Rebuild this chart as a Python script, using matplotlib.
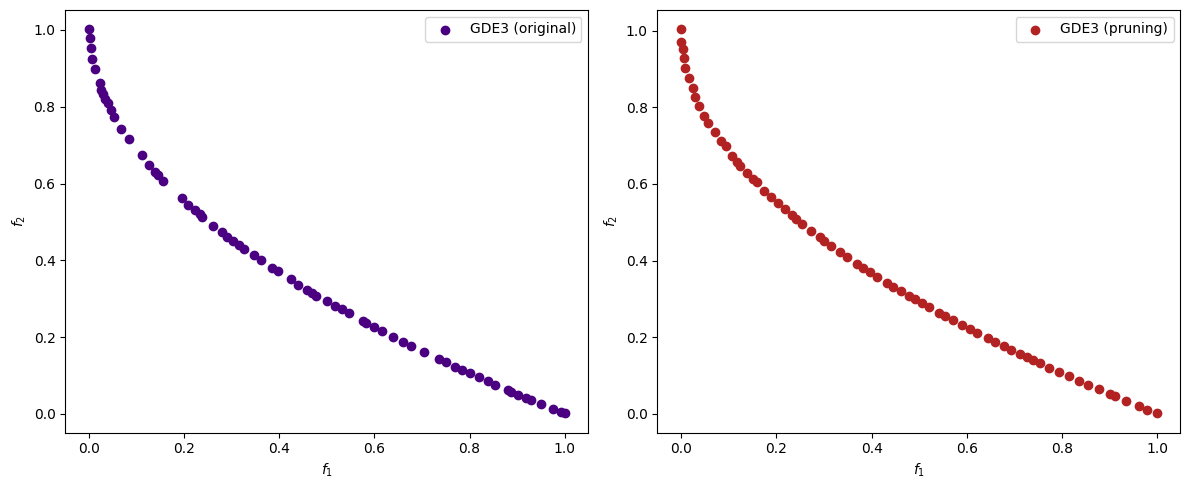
import matplotlib
matplotlib.use("Agg")
import matplotlib.pyplot as plt

# GDE3 (original) front
orig_f1 = [0.000, 0.002, 0.004, 0.006, 0.013, 0.022, 0.025, 0.029, 0.034, 0.039,
           0.046, 0.053, 0.067, 0.083, 0.111, 0.127, 0.139, 0.144, 0.156, 0.195,
           0.209, 0.223, 0.233, 0.237, 0.261, 0.279, 0.291, 0.303, 0.316, 0.326,
           0.347, 0.361, 0.384, 0.398, 0.424, 0.440, 0.459, 0.468, 0.478, 0.500,
           0.517, 0.532, 0.546, 0.575, 0.583, 0.599, 0.617, 0.639, 0.661, 0.676,
           0.704, 0.735, 0.750, 0.770, 0.785, 0.801, 0.820, 0.838, 0.854, 0.880,
           0.887, 0.902, 0.918, 0.930, 0.950, 0.976, 0.992, 1.000]
orig_f2 = [1.002, 0.978, 0.952, 0.924, 0.898, 0.861, 0.844, 0.833, 0.820, 0.809,
           0.792, 0.774, 0.741, 0.715, 0.674, 0.648, 0.629, 0.622, 0.607, 0.562,
           0.544, 0.531, 0.521, 0.514, 0.490, 0.473, 0.462, 0.451, 0.440, 0.429,
           0.413, 0.401, 0.380, 0.371, 0.351, 0.336, 0.322, 0.315, 0.308, 0.293,
           0.282, 0.273, 0.262, 0.241, 0.236, 0.227, 0.216, 0.200, 0.188, 0.177,
           0.161, 0.142, 0.134, 0.122, 0.114, 0.106, 0.095, 0.085, 0.076, 0.062,
           0.058, 0.050, 0.042, 0.036, 0.026, 0.013, 0.005, 0.001]

# GDE3 (pruning) front
prun_f1 = [0.000, 0.000, 0.003, 0.005, 0.009, 0.016, 0.024, 0.029, 0.038, 0.048,
           0.057, 0.070, 0.083, 0.094, 0.107, 0.117, 0.123, 0.138, 0.151, 0.159,
           0.174, 0.188, 0.203, 0.218, 0.233, 0.242, 0.254, 0.272, 0.291, 0.301,
           0.315, 0.333, 0.348, 0.370, 0.382, 0.397, 0.412, 0.433, 0.446, 0.462,
           0.478, 0.492, 0.506, 0.521, 0.541, 0.555, 0.572, 0.590, 0.606, 0.621,
           0.644, 0.660, 0.679, 0.693, 0.712, 0.726, 0.740, 0.754, 0.772, 0.793,
           0.814, 0.835, 0.854, 0.877, 0.900, 0.912, 0.935, 0.961, 0.978, 0.999]
prun_f2 = [1.004, 0.970, 0.952, 0.929, 0.903, 0.877, 0.851, 0.828, 0.804, 0.778,
           0.759, 0.735, 0.713, 0.698, 0.674, 0.657, 0.647, 0.629, 0.612, 0.604,
           0.582, 0.566, 0.550, 0.534, 0.518, 0.508, 0.496, 0.478, 0.461, 0.451,
           0.438, 0.423, 0.410, 0.391, 0.382, 0.370, 0.358, 0.342, 0.332, 0.321,
           0.308, 0.299, 0.289, 0.279, 0.264, 0.255, 0.244, 0.232, 0.222, 0.212,
           0.198, 0.188, 0.176, 0.167, 0.156, 0.148, 0.140, 0.132, 0.121, 0.110,
           0.098, 0.086, 0.076, 0.064, 0.051, 0.046, 0.033, 0.020, 0.011, 0.001]

panels = [
    (orig_f1, orig_f2, "indigo", "GDE3 (original)"),
    (prun_f1, prun_f2, "firebrick", "GDE3 (pruning)"),
]

W, H = 1189, 490
fig, axes = plt.subplots(1, 2, figsize=(W / 100, H / 100), dpi=100)
for ax, (f1, f2, color, label) in zip(axes, panels):
    ax.scatter(f1, f2, color=color, label=label)
    ax.set_xlabel("$f_1$")
    ax.set_ylabel("$f_2$")
    ax.legend(loc="upper right")

fig.subplots_adjust(left=65.3 / W, right=1180.5 / W, top=1 - 10 / H,
                    bottom=1 - 432.7 / H, wspace=69 / 523)
fig.savefig("out.png", dpi=100)
